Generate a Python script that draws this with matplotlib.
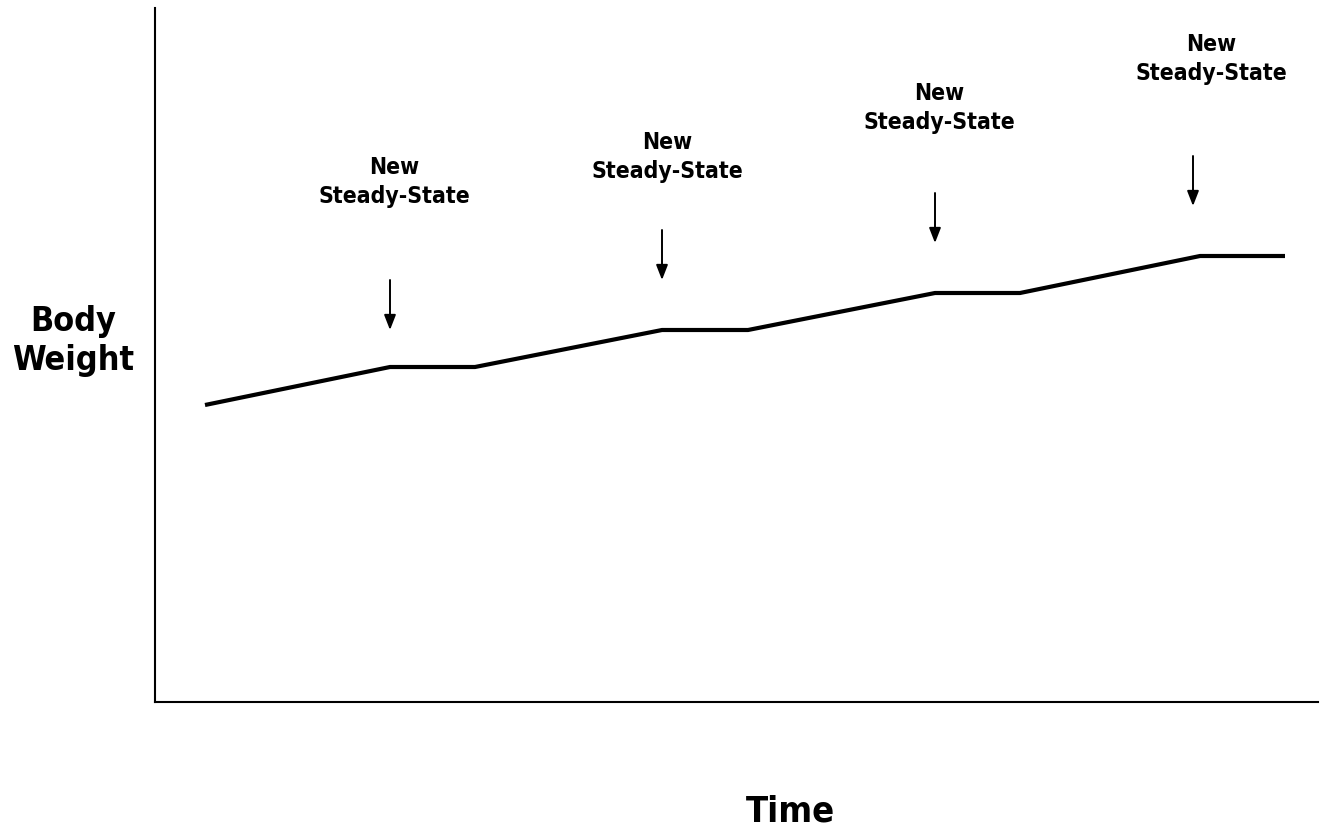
"""
Body weight settling into successive steady states over time
"""

from matplotlib import pyplot as plt

# time points (arbitrary units) and body weight at each point
time = [50, 235, 320, 507, 593, 780, 865, 1045, 1130]
weight = [297, 335, 335, 372, 372, 409, 409, 446, 446]

# annotations: arrow x, arrow start/end heights, label anchor
arrow_x = [235, 507, 780, 1038]
arrow_from = [422, 472, 509, 546]
arrow_to = [372, 422, 459, 496]
label_x = [239, 512, 784, 1056]
label_y = [520, 545, 594, 643]
label_text = "New\nSteady-State"

font = dict(family="DejaVu Sans", fontweight="bold", fontstretch="condensed")

fig = plt.figure(figsize=(13.26, 8.33), dpi=100)
ax = fig.add_axes([155 / 1326, 131 / 833, 1163 / 1326, 694 / 833])

ax.plot(time, weight, color="black", linewidth=3, solid_capstyle="butt")

for x, y0, y1 in zip(arrow_x, arrow_from, arrow_to):
    ax.annotate("", xy=(x, y1), xytext=(x, y0),
                arrowprops=dict(arrowstyle="-|>,head_length=0.9,head_width=0.35",
                                color="black", linewidth=1.4, shrinkA=0, shrinkB=0))

for x, y in zip(label_x, label_y):
    ax.text(x, y, label_text, ha="center", va="center", fontsize=16.5,
            linespacing=1.3, **font)

ax.set_xlim(0, 1163)
ax.set_ylim(0, 694)
ax.set_xticks([])
ax.set_yticks([])
for side in ["top", "right"]:
    ax.spines[side].set_visible(False)
for side in ["left", "bottom"]:
    ax.spines[side].set_linewidth(1.5)

fig.text(73 / 1326, 1 - 341 / 833, "Body\nWeight", ha="center", va="center",
         fontsize=24.5, linespacing=1.25, **font)
fig.text(790 / 1326, 1 - 812 / 833, "Time", ha="center", va="center",
         fontsize=26, **font)

plt.savefig("out.png")
